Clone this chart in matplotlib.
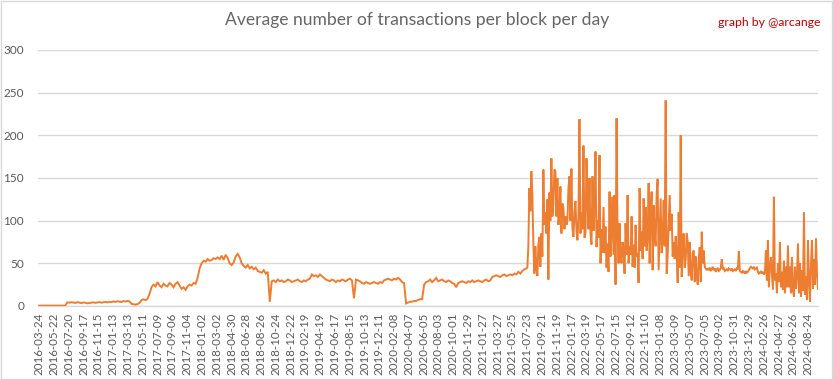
import numpy as np
import matplotlib
matplotlib.use("Agg")
import matplotlib.pyplot as plt
from matplotlib.patches import Rectangle

# ---------------- data ----------------
tick_labels = [
    "2016-03-24", "2016-05-22", "2016-07-20", "2016-09-17", "2016-11-15", "2017-01-13",
    "2017-03-13", "2017-05-11", "2017-07-09", "2017-09-06", "2017-11-04", "2018-01-02",
    "2018-03-02", "2018-04-30", "2018-06-28", "2018-08-26", "2018-10-24", "2018-12-22",
    "2019-02-19", "2019-04-19", "2019-06-17", "2019-08-15", "2019-10-13", "2019-12-11",
    "2020-02-08", "2020-04-07", "2020-06-05", "2020-08-03", "2020-10-01", "2020-11-29",
    "2021-01-27", "2021-03-27", "2021-05-25", "2021-07-23", "2021-09-21", "2021-11-19",
    "2022-01-17", "2022-03-19", "2022-05-17", "2022-07-15", "2022-09-12", "2022-11-10",
    "2023-01-08", "2023-03-09", "2023-05-07", "2023-07-05", "2023-09-02", "2023-10-31",
    "2023-12-29", "2024-02-26", "2024-04-27", "2024-06-26", "2024-08-24",
]

# 2016-03 .. 2021-07, one reading every 8 days
calm_values = [
    0.5, 0.5, 0.5, 0.5, 0.5, 0.5, 0.5, 0.5, 0.5, 0.5, 0.5, 0.5, 0.5, 0.5,
    4.2, 3.8, 4.5, 4.0, 3.6, 4.4, 3.9, 3.5, 4.1, 3.8, 3.2, 3.6, 4.0, 4.3, 3.7, 4.1,
    4.6, 3.9, 4.4, 4.8, 4.2, 5.0, 4.6, 5.3, 4.8, 5.6, 5.1, 4.7, 5.8, 5.2, 6.0, 5.4,
    2.5, 2.0, 1.6, 2.2, 3.5,
    7.0, 7.8, 6.9, 8.5,
    14, 22,
    25, 23, 28, 24, 22, 26, 24, 23, 27, 25, 22, 26, 28, 24, 20, 22, 19, 23, 25, 24, 27, 26,
    33, 44,
    50, 53, 52, 55, 53, 54, 56, 55,
    57, 55, 59, 54, 60, 56, 50, 48, 51, 58, 61, 57, 50,
    47, 45, 48, 44, 46, 43, 45,
    41, 40, 39, 42, 38, 40,
    5,
    29, 30, 28, 31, 29, 30, 28, 29, 31, 30, 28, 29, 30, 31, 29, 28, 30, 29, 31, 32,
    37, 35, 36, 34, 37, 35, 33,
    31, 30, 29, 31, 30, 28, 30, 29, 31, 30, 29, 31, 32, 30,
    9,
    31, 30, 29,
    27, 26, 28, 27, 26, 27, 28, 27, 26, 28, 27,
    30, 31, 32, 31, 30, 32, 31, 33, 31,
    28, 27,
    3, 4, 5, 5, 6, 6, 7, 8, 8,
    25,
    28, 29, 31, 28, 30, 33, 29, 30, 31, 29, 28, 30, 29, 27,
    26, 22,
    27, 28, 29, 28, 27, 29, 28, 30, 28, 29, 30, 29, 28, 30, 31, 29, 30,
    34, 35, 36, 35, 34, 36, 37, 35, 36, 37, 36, 38, 37, 40, 38,
    41, 43, 44,
]

# 2021-07 .. 2024-09, one reading every 4 days
volatile_values = [
    45, 70, 138, 111, 158, 131, 73, 38, 70, 45, 35, 72, 81, 46, 85, 58,
    160, 95, 110, 85, 125, 31, 133, 100, 173, 105, 120, 160, 158, 105, 150, 95,
    108, 140, 85, 120, 115, 90, 105, 95, 100, 138, 152, 100, 161, 90, 81, 110,
    123, 88, 77, 105, 219, 85, 110, 90, 188, 80, 85, 173, 120, 90, 150, 85,
    72, 152, 88, 115, 181, 69, 100, 80, 177, 50, 90, 62, 116, 62, 93, 45,
    73, 40, 134, 58, 87, 128, 60, 130, 25, 220, 85, 50, 97, 60, 50, 75,
    66, 38, 97, 60, 130, 50, 70, 60, 105, 46, 72, 45, 95, 58, 62, 27,
    138, 65, 87, 55, 126, 70, 116, 65, 80, 144, 50, 108, 134, 42, 118, 85,
    70, 132, 149, 42, 85, 126, 62, 78, 124, 70, 241, 38, 60, 97, 130, 88,
    108, 58, 75, 55, 82, 60, 27, 110, 45, 200, 34, 70, 85, 45, 55, 85,
    75, 35, 75, 40, 30, 62, 65, 28, 58, 35, 25, 55, 69, 28, 87, 50,
    65, 46, 44, 42, 44, 42, 45, 41, 43, 46, 42, 44, 40, 43, 44, 41,
    42, 45, 55, 43, 44, 41, 42, 43, 41, 44, 43, 42, 44, 41, 42, 43,
    41, 44, 43, 64, 41, 40, 39, 41, 40, 38, 41, 39, 40, 42, 44, 46,
    45, 44, 46, 43, 44, 45, 40, 38, 39, 41, 38, 40, 37, 39, 65, 30,
    77, 22, 45, 57, 38, 19, 128, 30, 38, 15, 50, 28, 75, 22, 40, 19,
    53, 15, 46, 22, 71, 22, 46, 15, 57, 18, 11, 46, 20, 35, 73, 15,
    50, 11, 42, 18, 110, 13, 35, 7, 77, 30, 5, 50, 77, 20, 55, 25,
    79, 38, 19, 26,
]

calm_step_days = 8
volatile_step_days = 4
label_step_days = 59

# ---------------- figure ----------------
W, H = 833, 379
fig = plt.figure(figsize=(W / 100, H / 100), dpi=100)
fig.patch.set_facecolor("white")

left, right, top, bottom = 38, 818, 50, 306
ax = fig.add_axes([left / W, 1 - bottom / H, (right - left) / W, (bottom - top) / H])

calm_x = np.arange(len(calm_values)) * calm_step_days
vol_start = calm_x[-1] + volatile_step_days
vol_x = vol_start + np.arange(len(volatile_values)) * volatile_step_days
x = np.concatenate([calm_x, vol_x])
y = np.concatenate([np.array(calm_values, float), np.array(volatile_values, float)])

ax.plot(x, y, color="#ED7D31", lw=1.4, solid_joinstyle="miter", zorder=3)

tick_pos = np.arange(len(tick_labels)) * label_step_days
ax.set_xlim(-5, 3108)
ax.set_ylim(0, 300)
ax.set_yticks(np.arange(0, 301, 50))
ax.set_xticks(tick_pos)

font = "Lato"
ax.set_xticklabels(tick_labels, rotation=90, fontsize=8.3, color="#595959", family=font)
ax.set_yticklabels([str(v) for v in range(0, 301, 50)], fontsize=8.5, color="#595959", family=font)
ax.tick_params(axis="both", length=0)
ax.tick_params(axis="y", pad=10)
ax.tick_params(axis="x", pad=5)

ax.grid(axis="y", color="#D9D9D9", lw=1)
ax.set_axisbelow(True)
for s in ["left", "right", "top"]:
    ax.spines[s].set_visible(False)
ax.spines["bottom"].set_color("#D9D9D9")
ax.spines["bottom"].set_linewidth(1)

fig.text(417 / W, 1 - 20 / H, "Average number of transactions per block per day",
         ha="center", va="center", fontsize=12.6, color="#666666", family=font)
fig.text(821 / W, 1 - 23 / H, "graph by @arcange", ha="right", va="center",
         fontsize=8.8, color="#C00000", family=font)

fig.patches.append(Rectangle((0.5 / W, 0.5 / H), 1 - 1.5 / W, 1 - 1.5 / H,
                             transform=fig.transFigure, fill=False, edgecolor="#D9D9D9", lw=1))

fig.savefig("out.png", dpi=100, facecolor="white")
